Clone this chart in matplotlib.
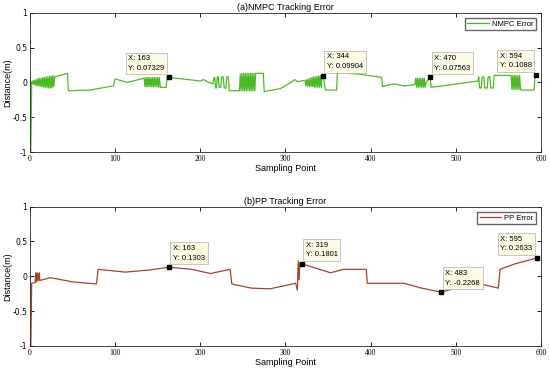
import matplotlib.pyplot as plt

# ---- NMPC tracking error ----
nmpc_x = [0, 1, 2,
          3, 4, 5, 6, 7, 8, 9, 10, 11, 12, 13, 14, 15, 16, 17, 18, 19, 20,
          21, 22, 23, 24, 25, 26, 27, 28, 29,
          44, 45, 70, 98, 100, 114, 134,
          135, 136, 137, 138, 139, 140, 141, 142, 143, 144, 145, 146, 147,
          148, 149, 150, 151, 152, 153,
          160, 161, 163, 200, 204, 210, 215,
          216, 217, 218, 219, 220, 221, 222, 224, 225, 227, 228, 230, 231,
          233, 234, 246,
          247, 248, 249, 250, 251, 252, 253, 254, 255, 256, 257, 258, 259,
          260, 261, 262, 263, 264, 265,
          274, 275, 294, 309, 311, 314, 323,
          324, 325, 326, 327, 328, 329, 330, 331, 332, 333, 334, 335, 336,
          337, 338, 339, 340, 341, 342, 343, 344,
          347, 360, 361, 385, 412, 413, 414, 417, 427, 440, 452,
          453, 454, 455, 456, 457, 458, 459, 460, 461, 462, 463, 464, 465,
          470, 471, 490, 526,
          527, 528, 530, 531, 533, 534, 537, 538, 540, 541, 544, 545, 565,
          566, 567, 568, 569, 570, 571, 572, 573, 574, 575, 576, 577,
          592, 593, 594, 596]
nmpc_y = [-1.0, -1.0, 0.01,
          0.02, -0.03, 0.03, -0.04, 0.04, -0.05, 0.05, -0.05, 0.06, -0.06,
          0.06, -0.06, 0.07, -0.07, 0.07, -0.07, 0.08, -0.08, 0.08, -0.08,
          0.09, -0.08, 0.09, -0.08, 0.1, -0.06, 0.08,
          0.13, -0.12, -0.11, -0.05, 0.05, 0.0, 0.06,
          -0.06, 0.07, -0.06, 0.07, -0.06, 0.07, -0.06, 0.07, -0.06, 0.07,
          -0.06, 0.07, -0.06, 0.07, -0.06, 0.07, -0.07, 0.07, -0.07,
          -0.07, 0.08, 0.073, 0.02, 0.04, 0.0, -0.02,
          0.07, 0.07, -0.08, -0.08, 0.08, 0.08, -0.07, -0.07, 0.08, 0.08,
          -0.08, -0.08, 0.08, 0.08, -0.12, -0.12,
          0.12, -0.12, 0.13, -0.12, 0.13, -0.12, 0.13, -0.12, 0.13, -0.12,
          0.13, -0.12, 0.13, -0.12, 0.13, -0.12, 0.13, -0.12, 0.13,
          0.13, -0.13, -0.09, 0.02, 0.04, 0.01, 0.03,
          -0.05, 0.04, -0.05, 0.05, -0.06, 0.06, -0.06, 0.07, -0.06, 0.08,
          -0.07, 0.08, -0.07, 0.09, -0.07, 0.09, -0.07, 0.1, -0.07, 0.1,
          0.099,
          -0.11, -0.11, 0.14, 0.12, 0.075, 0.07, -0.06, -0.05, -0.02,
          -0.05, -0.03,
          0.06, -0.07, 0.06, -0.07, 0.06, -0.07, 0.06, -0.07, 0.06, -0.07,
          0.06, -0.07, 0.0,
          0.0756, -0.07, -0.04, 0.02,
          0.08, -0.08, -0.08, 0.08, 0.08, -0.08, -0.08, 0.08, 0.08, -0.08,
          -0.08, 0.1, 0.1,
          -0.1, 0.1, -0.1, 0.1, -0.1, 0.1, -0.1, 0.1, -0.1, 0.1, -0.1,
          -0.11,
          -0.11, 0.11, 0.1088, 0.11]

# ---- PP tracking error ----
pp_x = [0, 1, 2, 6, 7, 7.5, 9, 9.5, 11, 11.5, 24, 50, 78, 80, 112, 140,
        163, 190, 212, 235, 237, 260, 282, 312, 314, 315, 316, 317, 319,
        335, 353, 368, 395, 396, 439, 460, 483, 500, 520, 533, 550, 552,
        570, 595]
pp_y = [-1.0, -1.0, -0.1, -0.09, 0.05, -0.08, 0.05, -0.07, 0.05, -0.06,
        -0.02, -0.08, -0.11, 0.1, 0.06, 0.09, 0.1303, 0.1, 0.04, 0.1, -0.11,
        -0.17, -0.18, -0.1, -0.2, 0.22, -0.05, 0.2, 0.1801, 0.12, 0.05, 0.1,
        0.1, -0.1, -0.1, -0.17, -0.2268, -0.17, -0.12, -0.12, -0.17, 0.1,
        0.18, 0.2633]

# data tips: (x, y, side)
nmpc_tips = [(163, 0.07329, 'left'), (344, 0.09904, 'right'),
             (470, 0.07563, 'right'), (594, 0.1088, 'left')]
pp_tips = [(163, 0.1303, 'right'), (319, 0.1801, 'right'),
           (483, -0.2268, 'right'), (595, 0.2633, 'left')]

green = '#4cbb22'
red = '#a5432a'

fig = plt.figure(figsize=(5.5, 3.7), dpi=100)
ax1 = fig.add_axes([0.0545, 0.589, 0.929, 0.3765])
ax2 = fig.add_axes([0.0545, 0.065, 0.929, 0.3765])


def style(ax, title):
    ax.set_xlim(0, 600)
    ax.set_ylim(-1, 1)
    ax.set_xticks([0, 100, 200, 300, 400, 500, 600])
    ax.set_yticks([-1, -0.5, 0, 0.5, 1])
    ax.set_yticklabels(['-1', '-0.5', '0', '0.5', '1'])
    ax.tick_params(direction='in', top=True, right=True, length=3,
                   width=0.6, labelsize=5.5, pad=2)
    for lab in ax.get_xticklabels():
        lab.set_family('Liberation Serif')
    for s in ax.spines.values():
        s.set_linewidth(0.6)
        s.set_color('#262626')
    ax.set_title(title, fontsize=6.5, pad=2, family='Liberation Sans')
    ax.set_xlabel('Sampling Point', fontsize=6.5, labelpad=1,
                  family='Liberation Sans')
    ax.set_ylabel('Distance(m)', fontsize=6.5, labelpad=0,
                  family='Liberation Sans')


def tips(ax, pts):
    for x, y, side in pts:
        ax.plot(x, y, 's', color='black', ms=3)
        dx = 3 if side == 'right' else -3
        ax.annotate('X: %d\nY: %s' % (x, ('%.4g' % y)), xy=(x, y),
                    xytext=(dx, 4), textcoords='offset points',
                    ha='left' if side == 'right' else 'right', va='bottom',
                    multialignment='left',
                    fontsize=5.5, family='Liberation Sans', linespacing=1.5,
                    bbox=dict(boxstyle='square,pad=0.35', fc='#fbfbe4',
                              ec='#b0b0b0', lw=0.5))


ax1.plot(nmpc_x, nmpc_y, color=green, lw=0.9, label='NMPC Error')
style(ax1, '(a)NMPC Tracking Error')
tips(ax1, nmpc_tips)
ax1.legend(loc='upper right', frameon=True, fancybox=False,
           edgecolor='#404040', handlelength=2.8, handletextpad=0.4,
           borderpad=0.3, borderaxespad=0.7,
           prop={'family': 'Liberation Sans', 'size': 5.5})

ax2.plot(pp_x, pp_y, color=red, lw=0.9, label='PP Error')
style(ax2, '(b)PP Tracking Error')
tips(ax2, pp_tips)
ax2.legend(loc='upper right', frameon=True, fancybox=False,
           edgecolor='#404040', handlelength=2.8, handletextpad=0.4,
           borderpad=0.3, borderaxespad=0.7,
           prop={'family': 'Liberation Sans', 'size': 5.5})

fig.savefig('out.png', dpi=100)
